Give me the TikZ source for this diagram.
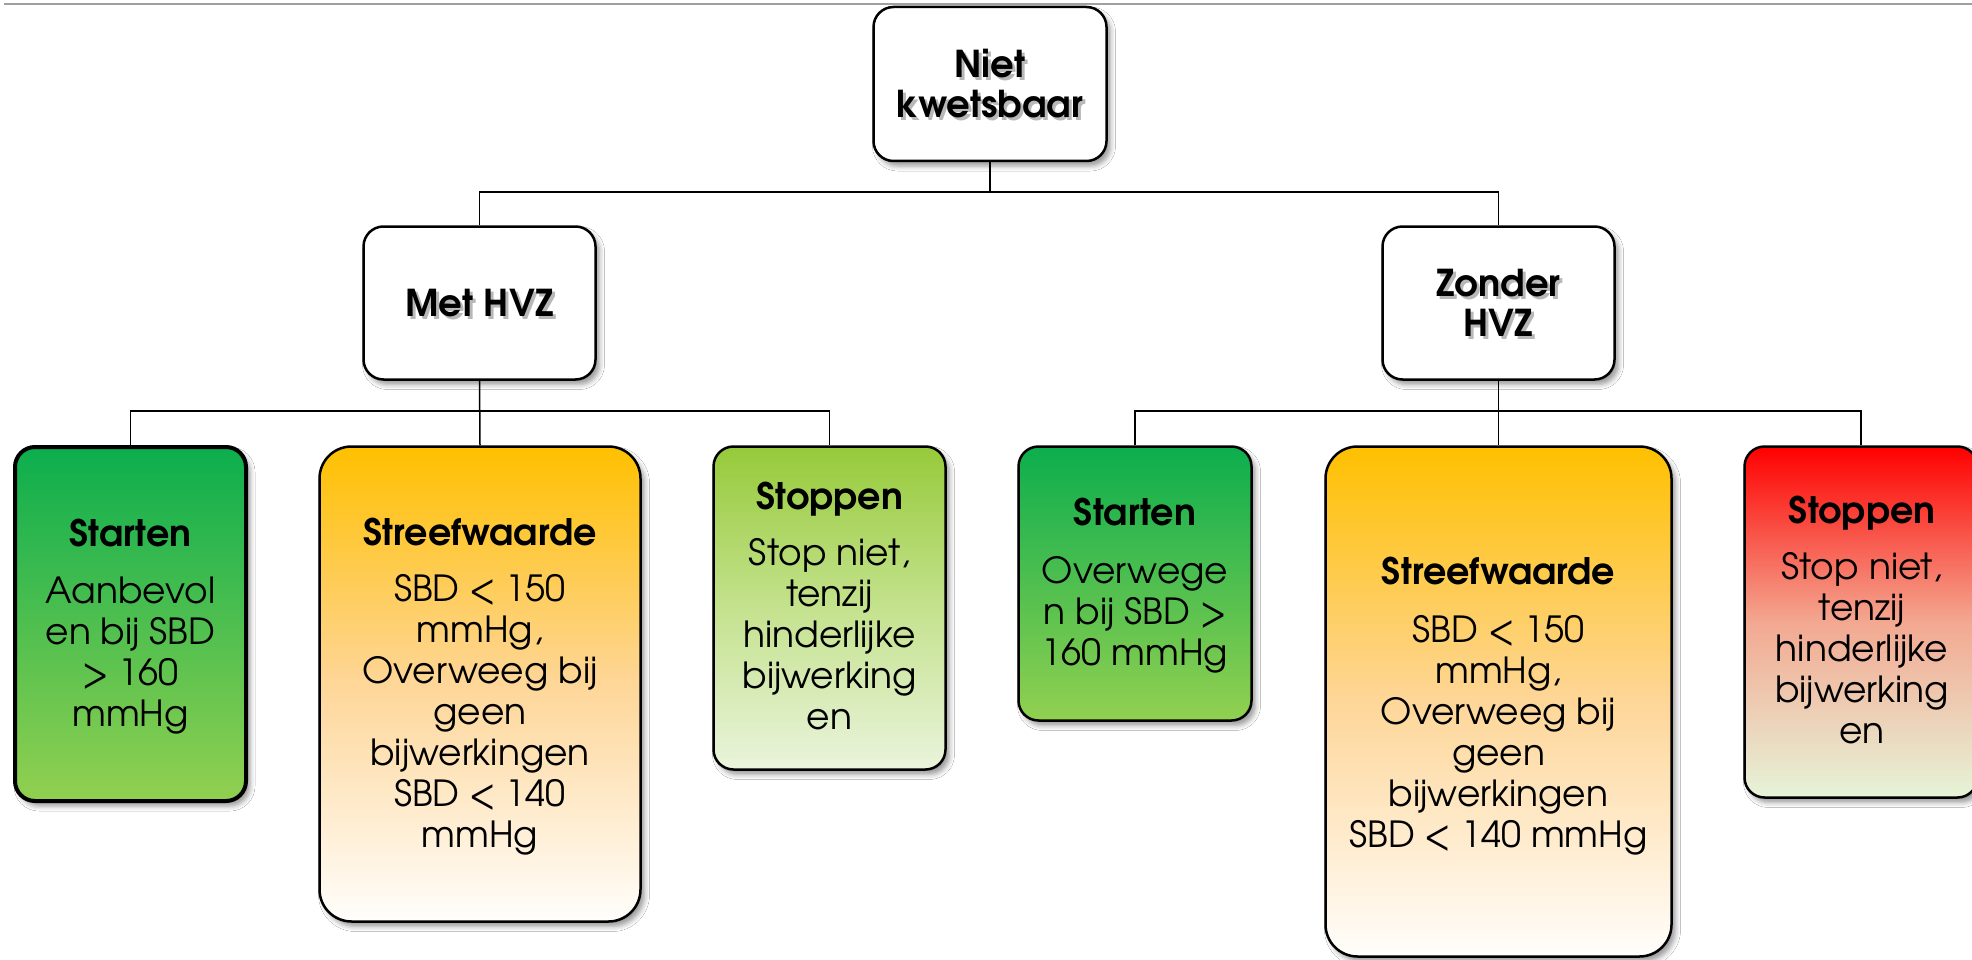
\documentclass[tikz,border=0pt]{standalone}
\usepackage{fontspec}
\setmainfont{TeX Gyre Adventor}
\usetikzlibrary{shadows.blur}
\definecolor{gA}{RGB}{12,174,78}
\definecolor{gB}{RGB}{146,208,80}
\definecolor{oA}{RGB}{255,192,0}
\definecolor{oM}{RGB}{254,214,152}
\definecolor{oB}{RGB}{255,254,252}
\definecolor{lA}{RGB}{150,202,58}
\definecolor{lM}{RGB}{196,226,142}
\definecolor{lB}{RGB}{234,244,220}
\definecolor{rA}{RGB}{255,0,0}
\definecolor{rM}{RGB}{243,168,145}
\definecolor{rB}{RGB}{230,244,216}
\definecolor{ruleGray}{RGB}{160,160,160}
\begin{document}
\begin{tikzpicture}[x=1pt,y=-1pt,
  box/.style={draw=black, line width=2.5pt, rounded corners=20pt, inner sep=0pt,
    blur shadow={shadow xshift=4pt, shadow yshift=-5pt, shadow blur radius=5pt, shadow opacity=40}},
  tallbox/.style={box, rounded corners=32pt},
  whitebox/.style={box, fill=white},
  conn/.style={draw=black, line width=1.5pt},
  toptitle/.style={align=center, inner sep=0pt, font=\fontsize{37}{40}\selectfont\bfseries},
  topshadow/.style={toptitle, text=black!28},
  ttl/.style={anchor=base, inner sep=0pt, font=\fontsize{36.5}{41}\selectfont\bfseries},
  body/.style={anchor=north, align=center, inner sep=0pt, font=\fontsize{36}{41}\selectfont}
]
\clip (0,0) rectangle (1972,960);
\fill[white] (0,0) rectangle (1972,960);
% top rule
\draw[ruleGray, line width=2pt] (4,4) -- (1972,4);

% level 0 and 1
\node[whitebox, minimum width=233pt, minimum height=154pt] (root) at (990,84) {};
\node[whitebox, minimum width=232pt, minimum height=153pt] (met) at (479.5,303) {};
\node[whitebox, minimum width=232pt, minimum height=153pt] (zonder) at (1498.5,303) {};

% level 2
\node[box, line width=4pt, top color=gA, bottom color=gB, minimum width=231pt, minimum height=354pt] (s1) at (130.5,624) {};
\node[tallbox, top color=oA, bottom color=oB, middle color=oM, minimum width=321pt, minimum height=475pt] (s2) at (480,684) {};
\node[box, top color=lA, bottom color=lB, middle color=lM, minimum width=232pt, minimum height=323pt] (s3) at (829.5,608) {};
\node[box, top color=gA, bottom color=gB, minimum width=233pt, minimum height=274pt] (s4) at (1135,583.5) {};
\node[tallbox, top color=oA, bottom color=oB, middle color=oM, minimum width=346pt, minimum height=510pt] (s5) at (1498.5,701.5) {};
\node[box, top color=rA, bottom color=rB, middle color=rM, minimum width=233pt, minimum height=351pt] (s6) at (1861,622) {};

% connectors
\draw[conn] (root.south) -- ++(0,30) -| (met.north);
\draw[conn] (root.south) -- ++(0,30) -| (zonder.north);
\draw[conn] (met.south) -- ++(0,30) -| (s1.north);
\draw[conn] (met.south) -- (s2.north);
\draw[conn] (met.south) -- ++(0,30) -| (s3.north);
\draw[conn] (zonder.south) -- ++(0,30) -| (s4.north);
\draw[conn] (zonder.south) -- (s5.north);
\draw[conn] (zonder.south) -- ++(0,30) -| (s6.north);

% top texts with shadow
\node[topshadow] (roots) at (993,87) {Niet\\kwetsbaar};
\node[toptitle] (roott) at (990,84) {Niet\\kwetsbaar};
\node[topshadow] (mets) at (482.5,306) {Met HVZ};
\node[toptitle] (mett) at (479.5,303) {Met HVZ};
\node[topshadow] (zonders) at (1501.5,306) {Zonder\\HVZ};
\node[toptitle] (zondert) at (1498.5,303) {Zonder\\HVZ};

% box texts
\node[ttl] (t1) at (130.5,546) {Starten};
\node[body] (b1) at (130.5,575) {\strut Aanbevol\\en bij SBD\\> 160\\mmHg};
\node[ttl] (t2) at (480,545) {Streefwaarde};
\node[body] (b2) at (480,573) {\strut SBD < 150\\mmHg,\\Overweeg bij\\geen\\bijwerkingen\\SBD < 140\\mmHg};
\node[ttl] (t3) at (829.5,509) {Stoppen};
\node[body] (b3) at (829.5,537) {\strut Stop niet,\\tenzij\\hinderlijke\\bijwerking\\en};
\node[ttl] (t4) at (1135,525) {Starten};
\node[body] (b4) at (1135,555) {\strut Overwege\\n bij SBD >\\160 mmHg};
\node[ttl] (t5) at (1498.5,584) {Streefwaarde};
\node[body] (b5) at (1498.5,614) {\strut SBD < 150\\mmHg,\\Overweeg bij\\geen\\bijwerkingen\\SBD < 140 mmHg};
\node[ttl] (t6) at (1862,523) {Stoppen};
\node[body] (b6) at (1862,551) {\strut Stop niet,\\tenzij\\hinderlijke\\bijwerking\\en};
\end{tikzpicture}
\end{document}
